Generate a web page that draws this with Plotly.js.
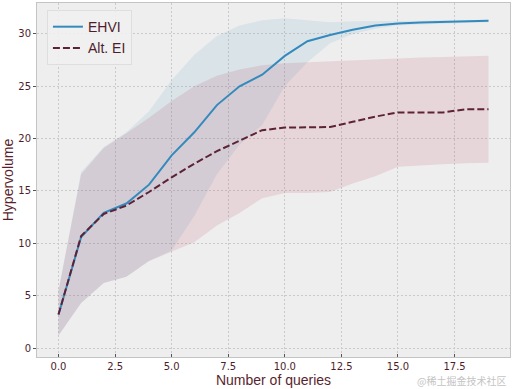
<!DOCTYPE html>
<html>
<head>
<meta charset="utf-8">
<script src="https://cdn.plot.ly/plotly-3.0.1.min.js"></script>
<style>
html,body{margin:0;padding:0;background:#fff;}
#chart{width:512px;height:389px;}
</style>
</head>
<body>
<div id="chart"></div>
<script>
// Data
const queries = [0,1,2,3,4,5,6,7,8,9,10,11,12,13,14,15,16,17,18,19];
const ehviMean = [3.2,10.6,12.9,13.8,15.6,18.4,20.6,23.2,25.0,26.1,27.9,29.3,29.9,30.4,30.8,31.0,31.08,31.12,31.2,31.26];
const ehviUpper = [5.5,16.8,19.2,20.6,22.6,25.6,28.0,29.8,30.8,31.3,31.5,31.3,31.1,31.2,31.2,31.25,31.25,31.3,31.3,31.35];
const ehviLower = [1.2,4.3,6.2,6.8,8.3,9.3,12.6,16.6,19.4,21.3,25.0,27.3,29.1,30.0,30.5,30.8,30.9,30.95,31.05,31.1];
const altMean = [3.2,10.7,12.8,13.6,14.9,16.3,17.6,18.8,19.8,20.8,21.05,21.05,21.1,21.6,22.1,22.5,22.5,22.5,22.8,22.8];
const altUpper = [5.5,16.6,19.1,20.5,22.0,23.6,25.0,26.0,26.6,27.0,27.2,27.3,27.4,27.5,27.6,27.7,27.75,27.8,27.85,27.9];
const altLower = [1.2,4.3,6.2,6.8,8.3,9.2,10.1,11.7,12.9,14.3,14.8,14.8,14.9,15.7,16.4,17.3,17.45,17.55,17.65,17.7];
const seriesNames = ['EHVI', 'Alt. EI'];
const yTicks = [0,5,10,15,20,25,30];
const xTicks = [0,2.5,5,7.5,10,12.5,15,17.5];

const blue = '#348ABD';
const maroon = '#5e2237';
const textColor = '#4e1d2c';

const traces = [
  {x: queries, y: ehviLower, mode: 'lines', line: {width: 0}, showlegend: false, hoverinfo: 'skip'},
  {x: queries, y: ehviUpper, mode: 'lines', line: {width: 0}, fill: 'tonexty',
   fillcolor: 'rgba(52,138,189,0.10)', showlegend: false, hoverinfo: 'skip'},
  {x: queries, y: altLower, mode: 'lines', line: {width: 0}, showlegend: false, hoverinfo: 'skip'},
  {x: queries, y: altUpper, mode: 'lines', line: {width: 0}, fill: 'tonexty',
   fillcolor: 'rgba(166,6,40,0.10)', showlegend: false, hoverinfo: 'skip'},
  {x: queries, y: ehviMean, mode: 'lines', name: seriesNames[0], line: {color: blue, width: 2}},
  {x: queries, y: altMean, mode: 'lines', name: seriesNames[1], line: {color: maroon, width: 2, dash: '7px,3px'}}
];

const layout = {
  width: 512, height: 389,
  margin: {l: 37, r: 2, t: 3, b: 32},
  paper_bgcolor: '#ffffff',
  plot_bgcolor: '#eeeeee',
  font: {family: 'DejaVu Sans', color: textColor, size: 10},
  showlegend: true,
  legend: {
    x: 0.021, y: 0.98, xanchor: 'left', yanchor: 'top',
    traceorder: 'normal',
    bgcolor: 'rgba(240,240,240,0.9)', bordercolor: '#dedede', borderwidth: 1,
    font: {family: 'Liberation Sans', size: 14, color: textColor},
    tracegroupgap: 0
  },
  xaxis: {
    range: [-0.95, 19.95],
    tickvals: xTicks, tickformat: '.1f',
    ticks: 'inside', ticklen: 3, tickcolor: '#555555',
    showline: true, mirror: true, linecolor: '#c4c4c4', linewidth: 1,
    showgrid: true, gridcolor: '#cacaca', griddash: '2px,2px', gridwidth: 1,
    zeroline: false,
    tickfont: {family: 'DejaVu Sans', size: 10, color: textColor},
    title: {text: 'Number of queries', font: {family: 'Liberation Sans', size: 14, color: '#5a1f2e'}, standoff: 4}
  },
  yaxis: {
    range: [-0.86, 32.95],
    tickvals: yTicks,
    ticks: 'outside', ticklen: 3, tickcolor: '#555555',
    showline: true, mirror: true, linecolor: '#c4c4c4', linewidth: 1,
    showgrid: true, gridcolor: '#cacaca', griddash: '2px,2px', gridwidth: 1,
    zeroline: false,
    tickfont: {family: 'DejaVu Sans', size: 10, color: textColor},
    title: {text: 'Hypervolume', font: {family: 'Liberation Sans', size: 14, color: '#5a1f2e'}, standoff: 4}
  },
  annotations: [{
    text: '@稀土掘金技术社区', xref: 'paper', yref: 'paper',
    x: 1, y: 0, xanchor: 'right', yanchor: 'top', yshift: -14, xshift: -2,
    showarrow: false,
    font: {family: 'Noto Sans CJK SC', size: 10, color: '#c4c4c4'}
  }]
};

Plotly.newPlot('chart', traces, layout, {displayModeBar: false, staticPlot: true});
</script>
</body>
</html>
